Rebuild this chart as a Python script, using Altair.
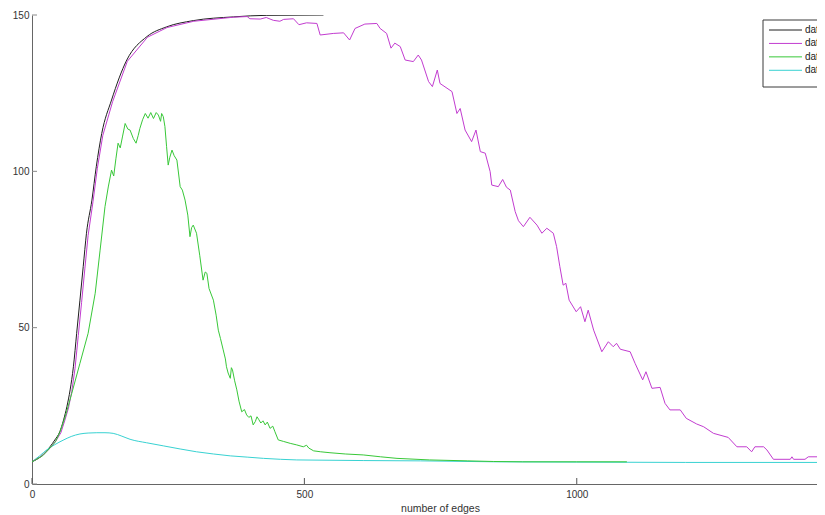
import altair as alt
import pandas as pd

# ---------------- data ----------------
series_names = ["data1", "data2", "data3", "data4"]
series_colors = ["#1e1e1e", "#c23cd0", "#38c838", "#38d2d2"]

data1_x = [0, 20, 33, 42, 51, 58, 64, 70, 76, 82, 88, 94, 100, 110, 118, 128, 146, 174, 211, 247, 296, 370, 431, 535]
data1_y = [7.1, 9.3, 11.9, 14.1, 16.7, 20.5, 24.7, 30.1, 37.5, 48.2, 58.8, 69.5, 80.2, 90.8, 101.5, 112.1, 122.8, 135.6, 143.1, 146.2, 148.2, 149.4, 149.9, 150.0]

data2_x = [0, 20, 34, 44, 53, 60, 67, 73, 79, 85, 91, 97, 103, 112, 120, 130, 148, 175, 212, 248, 297, 370, 395, 400, 419, 430, 443, 455, 462, 480, 490, 504, 523, 529, 553, 572, 583, 593, 611, 633, 639, 651, 659, 666, 676, 685, 700, 709, 715, 728, 735, 744, 749, 771, 780, 786, 795, 807, 815, 823, 832, 841, 844, 856, 864, 871, 878, 887, 893, 902, 914, 927, 936, 945, 957, 963, 969, 975, 980, 986, 999, 1007, 1015, 1021, 1031, 1046, 1058, 1067, 1073, 1080, 1098, 1107, 1121, 1127, 1138, 1153, 1162, 1171, 1190, 1201, 1220, 1233, 1251, 1278, 1294, 1312, 1321, 1327, 1343, 1349, 1361, 1392, 1395, 1398, 1419, 1425, 1450, 1456, 1470]
data2_y = [7.1, 9.2, 11.6, 13.8, 16.4, 20.2, 24.3, 29.6, 37.0, 47.5, 58.0, 68.8, 79.5, 90.3, 101.0, 111.5, 122.3, 135.2, 142.9, 146.0, 148.0, 149.3, 149.5, 148.8, 148.7, 149.2, 148.3, 148.0, 148.6, 148.8, 146.9, 147.5, 147.3, 143.6, 144.1, 144.3, 142.0, 145.7, 147.1, 147.3, 145.7, 144.1, 139.4, 141.0, 139.9, 135.6, 135.1, 137.2, 135.6, 128.7, 127.1, 132.4, 128.1, 125.5, 118.5, 120.1, 113.2, 109.5, 113.2, 106.3, 105.8, 99.9, 95.6, 95.1, 97.4, 94.9, 94.0, 87.1, 84.2, 82.3, 85.3, 82.8, 80.2, 81.8, 80.2, 75.9, 69.5, 63.6, 64.2, 58.8, 55.1, 56.7, 51.9, 55.6, 49.2, 42.3, 45.5, 43.9, 45.0, 43.1, 42.3, 38.6, 33.3, 35.9, 30.6, 30.9, 25.8, 23.7, 23.7, 21.0, 19.2, 18.3, 16.2, 14.9, 11.9, 11.9, 10.3, 11.9, 11.9, 10.9, 7.9, 7.9, 8.7, 7.9, 7.9, 8.7, 8.7, 7.7, 7.7]

data3_x = [0, 20, 33, 43, 51, 61, 73, 88, 103, 116, 125, 134, 140, 146, 150, 154, 158, 162, 166, 171, 176, 180, 186, 191, 195, 198, 203, 208, 213, 218, 223, 228, 232, 236, 238, 241, 244, 247, 250, 253, 257, 261, 266, 272, 276, 281, 286, 290, 293, 296, 302, 308, 314, 318, 321, 325, 333, 338, 342, 346, 351, 355, 357, 360, 364, 366, 368, 372, 376, 380, 385, 390, 394, 398, 402, 406, 410, 413, 416, 420, 424, 428, 432, 437, 442, 446, 452, 462, 474, 486, 498, 504, 508, 517, 530, 547, 575, 608, 640, 670, 730, 800, 847, 900, 1000, 1092]
data3_y = [7.1, 9.1, 11.5, 13.5, 16.5, 21.5, 29.0, 38.6, 48.2, 61.0, 74.8, 88.7, 95.0, 100.4, 98.5, 104.0, 109.0, 107.5, 111.0, 115.3, 113.5, 113.2, 110.5, 109.0, 111.5, 113.7, 116.5, 118.5, 117.0, 118.8, 116.9, 118.8, 118.0, 116.0, 118.5, 117.5, 114.3, 108.0, 102.0, 104.5, 106.8, 105.0, 103.6, 95.1, 94.0, 90.8, 86.0, 79.1, 82.0, 82.8, 80.2, 73.0, 65.2, 67.8, 67.4, 62.5, 58.8, 54.0, 49.2, 46.5, 42.9, 40.0, 37.5, 35.5, 33.8, 37.2, 36.5, 33.0, 30.1, 26.5, 23.1, 23.8, 22.1, 21.3, 21.8, 18.9, 20.0, 21.5, 20.7, 19.5, 20.2, 18.9, 19.8, 17.8, 18.5, 16.7, 14.1, 13.6, 13.0, 12.5, 11.9, 12.4, 11.5, 10.6, 10.3, 10.0, 9.6, 9.3, 8.7, 8.2, 7.7, 7.4, 7.2, 7.1, 7.1, 7.1]

data4_x = [0, 14, 27, 42, 57, 72, 88, 103, 119, 134, 149, 165, 180, 210, 241, 272, 302, 333, 364, 395, 425, 456, 486, 547, 608, 713, 850, 1000, 1200, 1460]
data4_y = [7.1, 9.0, 10.9, 12.6, 14.0, 15.2, 16.0, 16.3, 16.4, 16.4, 16.2, 15.3, 14.3, 13.2, 12.2, 11.2, 10.3, 9.6, 9.0, 8.6, 8.2, 7.9, 7.7, 7.6, 7.5, 7.4, 7.1, 7.0, 6.9, 6.9]

x_ticks = [0, 500, 1000]
y_ticks = [0, 50, 100, 150]
x_title = "number of edges"

# ---------------- table ----------------
rows = []
for name, xs, ys in zip(series_names,
                        [data1_x, data2_x, data3_x, data4_x],
                        [data1_y, data2_y, data3_y, data4_y]):
    for i, (a, b) in enumerate(zip(xs, ys)):
        rows.append({"series": name, "edges": a, "value": b, "order": i})
df = pd.DataFrame(rows)

W, H = 785, 469
FONT = "Liberation Sans"
xscale = alt.Scale(domain=[0, 1441], nice=False, zero=False)
yscale = alt.Scale(domain=[0, 150], nice=False)
color_scale = alt.Scale(domain=series_names, range=series_colors)

x_axis = alt.Axis(values=x_ticks, format="d", ticks=False, grid=False, labelPadding=5,
                  labelFlush=False, titleX=408, titleY=27,
                  titleBaseline="alphabetic", titleAlign="center")
y_axis = alt.Axis(values=y_ticks, format="d", ticks=False, grid=False, labelPadding=3,
                  labelFlush=False)


def line_layer(names, interp):
    return alt.Chart(df).transform_filter(
        alt.FieldOneOfPredicate(field="series", oneOf=names)
    ).mark_line(strokeWidth=1, interpolate=interp, clip=True).encode(
        x=alt.X("edges:Q", scale=xscale, axis=x_axis, title=x_title),
        y=alt.Y("value:Q", scale=yscale, axis=y_axis, title=None),
        color=alt.Color("series:N", scale=color_scale, legend=None),
        order="order:Q",
    )


smooth = line_layer(["data1", "data4"], "monotone")
noisy = line_layer(["data2", "data3"], "linear")

# inward tick marks (MATLAB style)
xt = alt.Chart(pd.DataFrame({"t": x_ticks})).mark_rule(color="#555555", strokeWidth=1).encode(
    x=alt.X("t:Q", scale=xscale, axis=x_axis, title=x_title),
    y=alt.value(H), y2=alt.value(H - 6),
)
yt = alt.Chart(pd.DataFrame({"t": y_ticks})).mark_rule(color="#8a8a8a", strokeWidth=1).encode(
    y=alt.Y("t:Q", scale=yscale, axis=y_axis, title=None),
    x=alt.value(0), x2=alt.value(5),
)

# legend box (MATLAB style, running past the right edge as in the reference)
one = pd.DataFrame({"k": [0]})
LX = 731
box = alt.Chart(one).mark_rect(fill="white", stroke="#3a3a3a", strokeWidth=1).encode(
    x=alt.value(LX), x2=alt.value(LX + 100), y=alt.value(5), y2=alt.value(72),
)
legend_layers = [box]
for i, (name, col) in enumerate(zip(series_names, series_colors)):
    yy = 15 + 13.43 * i
    legend_layers.append(
        alt.Chart(one).mark_rule(color=col, strokeWidth=1).encode(
            x=alt.value(LX + 6), x2=alt.value(LX + 39), y=alt.value(yy)))
    legend_layers.append(
        alt.Chart(one).mark_text(align="left", baseline="middle", fontSize=10,
                                 font=FONT, color="#222222").encode(
            x=alt.value(LX + 42), y=alt.value(yy), text=alt.value(name)))

chart = alt.layer(smooth, noisy, xt, yt, *legend_layers).properties(
    width=W, height=H,
    padding={"left": 24, "top": 7, "right": 0, "bottom": 30},
    autosize=alt.AutoSizeParams(type="none"),
    background="white",
).configure_view(stroke=None).configure_axis(
    domainColor="#666666", domainWidth=1,
    labelFont=FONT, labelFontSize=10, labelColor="#333333",
    titleFont=FONT, titleFontSize=10.5, titleFontWeight="normal", titleColor="#333333",
)

chart.save("out.html", embed_options={"renderer": "svg", "actions": False})
